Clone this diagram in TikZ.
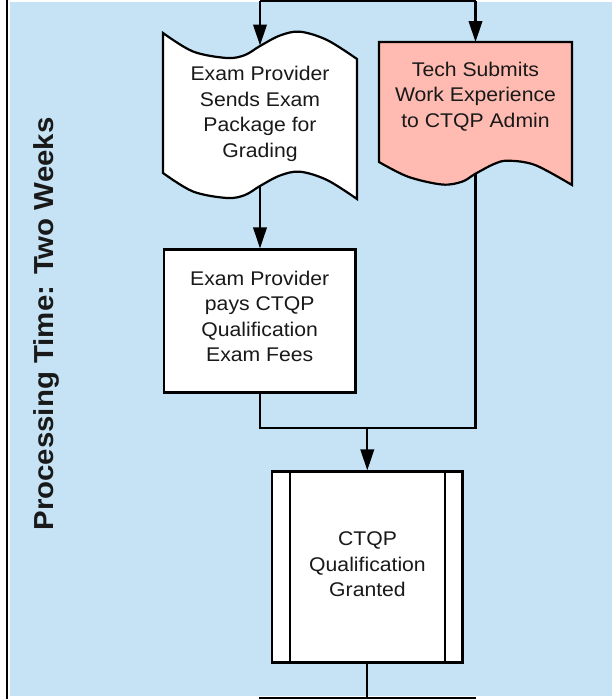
\documentclass[tikz,border=0pt]{standalone}
\usepackage{fontspec}
\setmainfont[FakeStretch=1.07]{Liberation Sans}
\usetikzlibrary{arrows.meta}
\definecolor{lane}{RGB}{197,227,244}
\definecolor{pinkfill}{RGB}{255,187,177}
\begin{document}
\begin{tikzpicture}[x=1pt,y=-1pt,line width=2.2pt,
  arr/.style={-{Triangle[length=21pt,width=13.5pt]}},
  txt/.style={font=\fontsize{19.8}{25.5}\selectfont,align=center,inner sep=0pt,text=black!90},
  boxshape/.style={draw,fill=white,inner sep=0pt}]
\useasboundingbox (0,0) rectangle (612,699);
\fill[white] (0,0) rectangle (612,699);
\fill[lane] (10,2) rectangle (612,696);
\draw[line width=2.6pt] (7,0) -- (7,699);

% tape shape (document 1)
\filldraw[fill=white] plot[smooth,tension=0.55] coordinates {(163,33)(193,51.5)(227,58)(245,55)(260,46)(280,35.5)(300,31.7)(327,40)(357,59)}
  -- plot[smooth,tension=0.55] coordinates {(357,199)(327,180)(300,171.7)(280,175.5)(260,186)(245,195)(227,198)(193,191.5)(163,173)} -- cycle;

% document shape (document 2)
\filldraw[fill=pinkfill] (379,42) -- (572,42)
  -- plot[smooth,tension=0.55] coordinates {(572,185)(535,165)(508,160.7)(494,164)(475,174)(462,181.7)(442,184.5)(408,176.7)(379,162)} -- cycle;

% boxes
\node[boxshape,minimum width=191.5pt,minimum height=143pt] (pay) at (259.7,321) {};
\node[boxshape,minimum width=190.5pt,minimum height=191pt] (ctqp) at (367.3,567) {};
\draw ([xshift=19pt]ctqp.north west) -- ([xshift=19pt]ctqp.south west);
\draw ([xshift=-19pt]ctqp.north east) -- ([xshift=-19pt]ctqp.south east);

% texts
\node[txt] (t1) at (260,114) {Exam Provider\\Sends Exam\\Package for\\Grading};
\node[txt] (t2) at (475.5,96.6) {Tech Submits\\Work Experience\\to CTQP Admin};
\node[txt] (t3) at (259.7,316.4) {Exam Provider\\pays CTQP\\Qualification\\Exam Fees};
\node[txt] (t4) at (367.5,564.4) {CTQP\\Qualification\\Granted};
\node[font=\bfseries\fontsize{27.5}{33}\selectfont,rotate=90,anchor=base,inner sep=0pt,text=black!90] (title) at (53,324) {Processing Time: Two Weeks};

% connector points
\coordinate (tl) at (260,1);
\coordinate (tr) at (475.5,1);
\coordinate (d1in) at (260,45.5);
\coordinate (d2in) at (475.5,42);
\coordinate (d1out) at (260,187);
\coordinate (d2out) at (475.5,174);
\coordinate (merge) at (367.3,428);
\coordinate (bl) at (259,697.6);
\coordinate (br) at (476,697.6);
\coordinate (bot) at (367.3,699);

% connectors
\draw (tl) -- (tr);
\draw[arr] (tl) -- (d1in);
\draw[arr] (tr) -- (d2in);
\draw[arr] (d1out) -- (d1out |- pay.north);
\draw (pay.south) |- (d2out |- merge) -- (d2out);
\draw[arr] (merge) -- (ctqp.north);
\draw (ctqp.south) -- (bot);
\draw (bl) -- (br);
\end{tikzpicture}
\end{document}
